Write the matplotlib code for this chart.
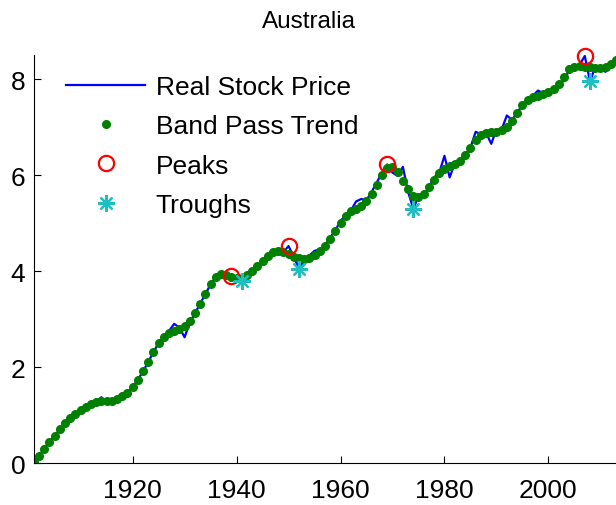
import numpy as np
import matplotlib
matplotlib.use("Agg")
import matplotlib.pyplot as plt

plt.rcParams['font.family'] = ['Liberation Sans', 'DejaVu Sans']

# Years of the series
years = np.arange(1901, 2014)

# Band pass trend (log real stock price)
trend = [0.02, 0.15, 0.30, 0.44, 0.57, 0.70, 0.83, 0.94, 1.03, 1.11,
         1.17, 1.23, 1.27, 1.29, 1.29, 1.30, 1.33, 1.39, 1.45, 1.58,
         1.73, 1.91, 2.10, 2.31, 2.50, 2.62, 2.71, 2.76, 2.80, 2.85,
         2.95, 3.12, 3.32, 3.52, 3.72, 3.88, 3.94, 3.92, 3.88, 3.85,
         3.86, 3.92, 4.00, 4.10, 4.21, 4.32, 4.39, 4.41, 4.39, 4.35,
         4.30, 4.27, 4.26, 4.28, 4.33, 4.42, 4.53, 4.67, 4.84, 5.01,
         5.15, 5.24, 5.30, 5.36, 5.45, 5.60, 5.80, 6.00, 6.14, 6.16,
         6.07, 5.88, 5.70, 5.56, 5.54, 5.60, 5.74, 5.90, 6.04, 6.13,
         6.18, 6.22, 6.30, 6.42, 6.57, 6.72, 6.83, 6.88, 6.90, 6.90,
         6.93, 7.00, 7.13, 7.30, 7.46, 7.57, 7.62, 7.65, 7.68, 7.72,
         7.80, 7.90, 8.05, 8.20, 8.26, 8.27, 8.26, 8.25, 8.23, 8.23,
         8.25, 8.32, 8.40]

# Real stock price (log)
price = [0.02, 0.15, 0.30, 0.44, 0.57, 0.70, 0.83, 0.94, 1.03, 1.11,
         1.17, 1.23, 1.28, 1.37, 1.24, 1.25, 1.32, 1.38, 1.45, 1.58,
         1.73, 1.91, 2.10, 2.31, 2.50, 2.62, 2.75, 2.90, 2.82, 2.62,
         2.92, 3.12, 3.32, 3.52, 3.72, 3.88, 3.95, 3.93, 3.90, 3.85,
         3.80, 3.92, 4.00, 4.10, 4.21, 4.32, 4.39, 4.41, 4.39, 4.52,
         4.30, 4.05, 4.22, 4.32, 4.42, 4.45, 4.53, 4.70, 4.84, 5.05,
         5.15, 5.26, 5.45, 5.50, 5.48, 5.65, 5.85, 6.05, 6.22, 6.05,
         5.98, 6.17, 5.65, 5.30, 5.55, 5.55, 5.75, 5.95, 6.05, 6.40,
         5.95, 6.25, 6.30, 6.42, 6.57, 6.90, 6.85, 6.88, 6.65, 6.95,
         6.95, 7.24, 7.15, 7.30, 7.46, 7.57, 7.65, 7.76, 7.70, 7.74,
         7.76, 7.85, 7.98, 8.18, 8.26, 8.30, 8.48, 7.95, 8.25, 8.22,
         8.15, 8.30, 8.40]

peak_years = [1939, 1950, 1969, 2007]
trough_years = [1941, 1952, 1974, 2008]

price = np.array(price)
peak_idx = [list(years).index(y) for y in peak_years]
trough_idx = [list(years).index(y) for y in trough_years]

fig = plt.figure(figsize=(6.16, 5.06), dpi=100)
ax = fig.add_axes([0.0549, 0.083, 0.9451, 0.8063])

ax.plot(years, price, color='#0000ff', lw=1.6, label='Real Stock Price')
ax.plot(years, trend, 'o', color='#008000', ms=5.5, mec='#008000',
        label='Band Pass Trend')
ax.plot(peak_years, price[peak_idx], 'o', mfc='none', mec='#ff0000',
        ms=11, mew=1.6, label='Peaks', clip_on=False)
ax.plot(trough_years, price[trough_idx], ls='none', marker=(8, 2, 0),
        color='#1fbfbf', mec='#1fbfbf', ms=12, mew=1.6, label='Troughs',
        clip_on=False)

ax.set_xlim(1901, 2013)
ax.set_ylim(0, 8.5)
ax.set_xticks([1920, 1940, 1960, 1980, 2000])
ax.set_yticks([0, 2, 4, 6, 8])
ax.tick_params(direction='in', length=5, labelsize=19, width=0.8)
ax.tick_params(axis='x', pad=11)
ax.tick_params(axis='y', pad=6)
ax.spines['top'].set_visible(False)
ax.spines['right'].set_visible(False)

fig.text(309 / 616, 0.957, 'Australia', ha='center', va='center', fontsize=17.5)

ax.legend(loc='upper left', bbox_to_anchor=(0.028, 0.99), frameon=False,
          fontsize=19, handlelength=3.0, handletextpad=0.4,
          labelspacing=0.58, borderaxespad=0.2)

plt.savefig('out.png', dpi=100)
